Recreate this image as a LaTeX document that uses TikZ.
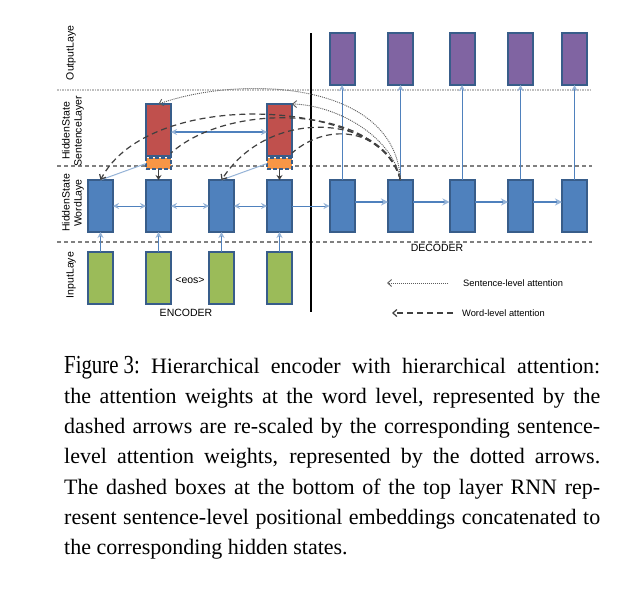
\documentclass[tikz,border=0pt]{standalone}
\usepackage{fontspec}
\usepackage{graphicx}
\setmainfont{Liberation Serif}
\setsansfont{Liberation Sans}
\usetikzlibrary{arrows.meta,calc}
\definecolor{bfill}{HTML}{4F81BD}
\definecolor{bline}{HTML}{385D8A}
\definecolor{pfill}{HTML}{8064A2}
\definecolor{rfill}{HTML}{C0504D}
\definecolor{gfill}{HTML}{9BBB59}
\definecolor{ofill}{HTML}{F79646}
\definecolor{lblue}{HTML}{95B3D7}
\definecolor{attn}{HTML}{404040}
\definecolor{sepgray}{HTML}{808080}
\definecolor{sepdot}{HTML}{BFBFBF}
\begin{document}
\begin{tikzpicture}[x=1pt,y=-1pt,
  cell/.style={draw=bline,line width=2pt,minimum width=25pt,minimum height=52pt,inner sep=0pt,outer sep=0pt},
  wordcell/.style={cell,fill=bfill},
  outcell/.style={cell,fill=pfill},
  incell/.style={cell,fill=gfill},
  sentcell/.style={cell,fill=rfill},
  embcell/.style={cell,fill=ofill,minimum height=11pt,dash pattern=on 4pt off 2pt},
  lbl/.style={font=\sffamily\fontsize{10.5}{12}\selectfont,inner sep=0pt},
  layerlbl/.style={lbl,rotate=90,align=center},
  legendlbl/.style={font=\sffamily\fontsize{9.3}{11}\selectfont,inner sep=0pt,anchor=west},
  bluetip/.style={-{Stealth[length=6pt,width=6pt,color=lblue]}},
  uparrow/.style={draw=bfill,line width=1pt,bluetip},
  biarrow/.style={draw=bfill,line width=1pt,{Stealth[length=6pt,width=6pt,color=lblue]}-{Stealth[length=6pt,width=6pt,color=lblue]}},
  decarrow/.style={draw=bfill,line width=2pt,-{Stealth[length=7pt,width=7pt,color=lblue]}},
  wordatt/.style={draw=attn,line width=1.2pt,dash pattern=on 6pt off 4pt},
  wordatttip/.style={wordatt,-{Straight Barb[length=4pt,width=7pt]}},
  sentatt/.style={draw=attn!85,line width=0.9pt,dash pattern=on 1pt off 1pt,-{Straight Barb[length=4pt,width=7pt]}},
  sepdash/.style={draw=sepgray,line width=1.2pt,dash pattern=on 4pt off 3pt},
  sepdots/.style={draw=sepdot,line width=1.5pt,dash pattern=on 1.5pt off 1pt},
]
\fill[white] (0,0) rectangle (621,600);
\useasboundingbox (0,0) rectangle (621,600);

% layer separators
\draw[sepdots] (57,90) -- (592,90);
\draw[sepdash] (57,166) -- (592,166);
\draw[sepdash] (57,242) -- (592,242);

% divider
\coordinate (vt) at (311,33);
\coordinate (vb) at (311,312);
\draw[line width=1.2pt] (vt) -- (vb);

% layer labels
\node[layerlbl] (lout) at (71,53) {OutputLaye};
\node[layerlbl] (lsent) at (73,131) {HiddenState\\SentenceLayer};
\node[layerlbl] (lword) at (73,203) {HiddenState\\WordLaye};
\node[layerlbl] (lin) at (71,275) {InputLaye};

% encoder
\node[incell] (g1) at (100.5,277.5) {};
\node[incell] (g2) at (158.5,277.5) {};
\node[incell] (g3) at (221.5,277.5) {};
\node[incell] (g4) at (279.5,277.5) {};
\node[wordcell] (w1) at (100.5,206) {};
\node[wordcell] (w2) at (158.5,206) {};
\node[wordcell] (w3) at (221.5,206) {};
\node[wordcell] (w4) at (279.5,206) {};
\node[sentcell] (s1) at (158.5,130) {};
\node[sentcell] (s2) at (279.5,130) {};
\node[embcell] (e1) at (158.5,163.5) {};
\node[embcell] (e2) at (279.5,163.5) {};

% decoder
\node[wordcell] (d1) at (342,206) {};
\node[wordcell] (d2) at (400.5,206) {};
\node[wordcell] (d3) at (462,206) {};
\node[wordcell] (d4) at (520.5,206) {};
\node[wordcell] (d5) at (574.5,206) {};
\node[outcell] (p1) at (342,59) {};
\node[outcell] (p2) at (400.5,59) {};
\node[outcell] (p3) at (462,59) {};
\node[outcell] (p4) at (520.5,59) {};
\node[outcell] (p5) at (574.5,59) {};

% texts
\node[lbl] (eos) at (190,280) {<eos>};
\node[lbl] (enc) at (186,313) {ENCODER};
\node[lbl] (dec) at (437,248) {DECODER};

% input arrows
\foreach \i in {1,2,3,4} {\draw[uparrow] (g\i.north) -- (w\i.south);}
% encoder bidirectional
\draw[biarrow] (w1.east) -- (w2.west);
\draw[biarrow] (w2.east) -- (w3.west);
\draw[biarrow] (w3.east) -- (w4.west);
\draw[uparrow] (w4.east) -- (d1.west);
% sentence level
\draw[draw=bfill,line width=1.5pt,{Stealth[length=6pt,width=6pt,color=lblue]}-{Stealth[length=6pt,width=6pt,color=lblue]}] ([yshift=-2pt]s1.east) -- ([yshift=-2pt]s2.west);
\draw[draw=lblue,line width=1pt] (w1.north) -- (e1.west);
\draw[draw=lblue,line width=1pt] (w3.north) -- (e2.west);
\draw[draw=attn,line width=1.2pt,-{Stealth[length=5pt,width=6pt]}] (e1.south) -- (w2.north);
\draw[draw=attn,line width=1.2pt,-{Stealth[length=5pt,width=6pt]}] (e2.south) -- (w4.north);
% decoder arrows
\draw[decarrow] ([yshift=4pt]d1.east) -- ([yshift=4pt]d2.west);
\draw[decarrow] ([yshift=4pt]d2.east) -- ([yshift=4pt]d3.west);
\draw[decarrow] ([yshift=4pt]d3.east) -- ([yshift=4pt]d4.west);
\draw[decarrow] ([yshift=4pt]d4.east) -- ([yshift=4pt]d5.west);
\foreach \i in {1,...,5} {\draw[uparrow] (d\i.north) -- (p\i.south);}

% word-level attention
\draw[wordatttip] (d2.north) .. controls (385,100) and (150,85) .. (w1.north);
\draw[wordatt] (d2.north) .. controls (380,105) and (230,100) .. ([yshift=3pt]s1.south east);
\draw[wordatttip] (d2.north) .. controls (385,115) and (270,105) .. (w3.north);
\draw[wordatt] (d2.north) .. controls (385,130) and (330,120) .. ([yshift=3pt]s2.south east);
% sentence-level attention
\draw[sentatt] (d2.north) .. controls (395,80) and (240,75) .. (s1.north);
\draw[sentatt] (d2.north) .. controls (392,135) and (335,105) .. (s2.north east);

% legend
\coordinate (l1a) at (448,283);
\coordinate (l1b) at (387,283);
\coordinate (l2a) at (453,313);
\coordinate (l2b) at (392,313);
\draw[sentatt] (l1a) -- (l1b);
\draw[wordatttip] (l2a) -- (l2b);
\node[legendlbl] (leg1) at (463,283) {Sentence-level attention};
\node[legendlbl] (leg2) at (462,313) {Word-level attention};

% caption
\node[anchor=base west,inner sep=0pt] (cap) at (64,373) {\parbox[t]{536pt}{\fontsize{22}{30.3}\selectfont
{\fontsize{26}{30.3}\selectfont\scalebox{0.8}[1]{Figure 3:}} Hierarchical encoder with hierarchical attention:\linebreak
the attention weights at the word level, represented by the\linebreak
dashed arrows are re-scaled by the corresponding sentence-\linebreak
level attention weights, represented by the dotted arrows.\linebreak
The dashed boxes at the bottom of the top layer RNN rep-\linebreak
resent sentence-level positional embeddings concatenated to\linebreak
the corresponding hidden states.}};
\end{tikzpicture}
\end{document}
